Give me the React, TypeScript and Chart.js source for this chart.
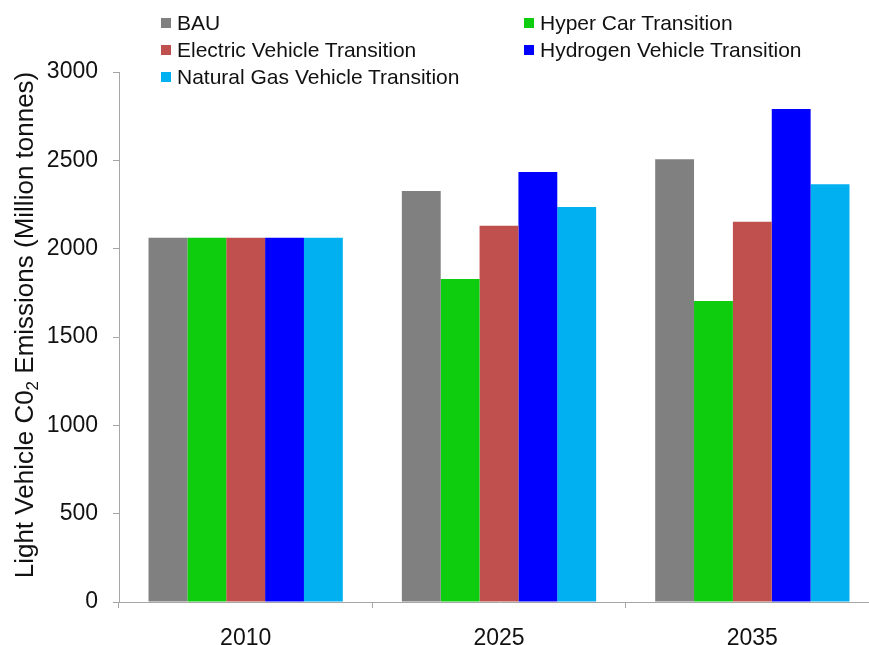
import React, { useEffect, useRef } from "react";
import { Chart, registerables } from "chart.js";

Chart.register(...registerables);

const categories = ["2010", "2025", "2035"];
const seriesNames = [
  "BAU",
  "Hyper Car Transition",
  "Electric Vehicle Transition",
  "Hydrogen Vehicle Transition",
  "Natural Gas Vehicle Transition",
];
const bauValues = [2062, 2326, 2506];
const hyperCarValues = [2062, 1828, 1704];
const electricValues = [2062, 2130, 2153];
const hydrogenValues = [2062, 2434, 2791];
const naturalGasValues = [2062, 2236, 2364];
const seriesColors = ["#808080", "#0ECC0E", "#C0504D", "#0000FF", "#00B0F0"];
const yMin = 0;
const yMax = 3000;
const yStep = 500;
const yTitleBefore = "Light Vehicle C0";
const yTitleSub = "2";
const yTitleAfter = " Emissions (Million tonnes)";

const seriesValues = [bauValues, hyperCarValues, electricValues, hydrogenValues, naturalGasValues];

const FONT = "'Liberation Sans', Arial, sans-serif";
const AXIS_COLOR = "#A6A6A6";
const TEXT_COLOR = "#111111";

const yTitlePlugin = {
  id: "yTitleSub",
  afterDraw(chart: any) {
    const ctx = chart.ctx as CanvasRenderingContext2D;
    const mainFont = `26px ${FONT}`;
    const subFont = `17px ${FONT}`;
    ctx.save();
    ctx.font = mainFont;
    const w1 = ctx.measureText(yTitleBefore).width;
    const w3 = ctx.measureText(yTitleAfter).width;
    ctx.font = subFont;
    const w2 = ctx.measureText(yTitleSub).width;
    const total = w1 + w2 + w3;
    const centerY = 325;
    const baselineX = 33;
    ctx.translate(baselineX, centerY);
    ctx.rotate(-Math.PI / 2);
    ctx.fillStyle = TEXT_COLOR;
    ctx.textBaseline = "alphabetic";
    ctx.textAlign = "left";
    let x = -total / 2;
    ctx.font = mainFont;
    ctx.fillText(yTitleBefore, x, 0);
    x += w1;
    ctx.font = subFont;
    ctx.fillText(yTitleSub, x, 5);
    x += w2;
    ctx.font = mainFont;
    ctx.fillText(yTitleAfter, x, 0);
    ctx.restore();
  },
};

export default function App() {
  const canvasRef = useRef<HTMLCanvasElement | null>(null);

  useEffect(() => {
    const canvas = canvasRef.current;
    if (!canvas) return;
    const chart = new Chart(canvas, {
      type: "bar",
      data: {
        labels: categories,
        datasets: seriesNames.map((name, i) => ({
          label: name,
          data: seriesValues[i],
          backgroundColor: seriesColors[i],
          borderWidth: 0,
          barPercentage: 1,
          categoryPercentage: 0.767,
        })),
      },
      options: {
        responsive: false,
        animation: false,
        layout: { padding: { left: 0, top: 72, right: 11, bottom: 0 } },
        plugins: {
          legend: { display: false },
          tooltip: { enabled: false },
        },
        scales: {
          x: {
            type: "category",
            offset: true,
            grid: {
              display: true,
              offset: true,
              drawOnChartArea: false,
              drawTicks: true,
              tickLength: 6,
              color: AXIS_COLOR,
              lineWidth: 1,
            },
            border: { display: true, color: AXIS_COLOR, width: 1 },
            ticks: {
              color: TEXT_COLOR,
              font: { family: FONT, size: 23 },
              padding: 17,
              maxRotation: 0,
            },
            afterFit: (scale: any) => {
              scale.height = 43;
            },
          },
          y: {
            min: yMin,
            max: yMax,
            ticks: {
              stepSize: yStep,
              color: TEXT_COLOR,
              font: { family: FONT, size: 23 },
              padding: 15,
              callback: (value: any) => String(value),
            },
            grid: {
              display: true,
              drawOnChartArea: false,
              drawTicks: true,
              tickLength: 6,
              color: AXIS_COLOR,
            },
            border: { display: true, color: AXIS_COLOR, width: 1 },
            afterFit: (scale: any) => {
              scale.width = 119;
            },
          },
        },
      },
      plugins: [yTitlePlugin],
    });
    return () => chart.destroy();
  }, []);

  return (
    <div
      style={{
        position: "fixed",
        left: 0,
        top: 0,
        width: 869,
        height: 645,
        overflow: "hidden",
        background: "#ffffff",
      }}
    >
      <canvas ref={canvasRef} width={890} height={645} style={{ display: "block", width: 890, height: 645 }} />
      {seriesNames.map((name, i) => {
        const col = i % 2;
        const row = Math.floor(i / 2);
        const left = col === 0 ? 161 : 524;
        const cy = 23 + row * 27;
        return (
          <div
            key={name}
            style={{
              position: "absolute",
              left,
              top: cy - 13,
              height: 26,
              display: "flex",
              alignItems: "center",
              whiteSpace: "nowrap",
              fontFamily: FONT,
              fontSize: 21,
              color: TEXT_COLOR,
            }}
          >
            <span
              style={{
                display: "inline-block",
                width: 10,
                height: 10,
                background: seriesColors[i],
                marginRight: 6,
              }}
            />
            <span>{name}</span>
          </div>
        );
      })}
    </div>
  );
}
